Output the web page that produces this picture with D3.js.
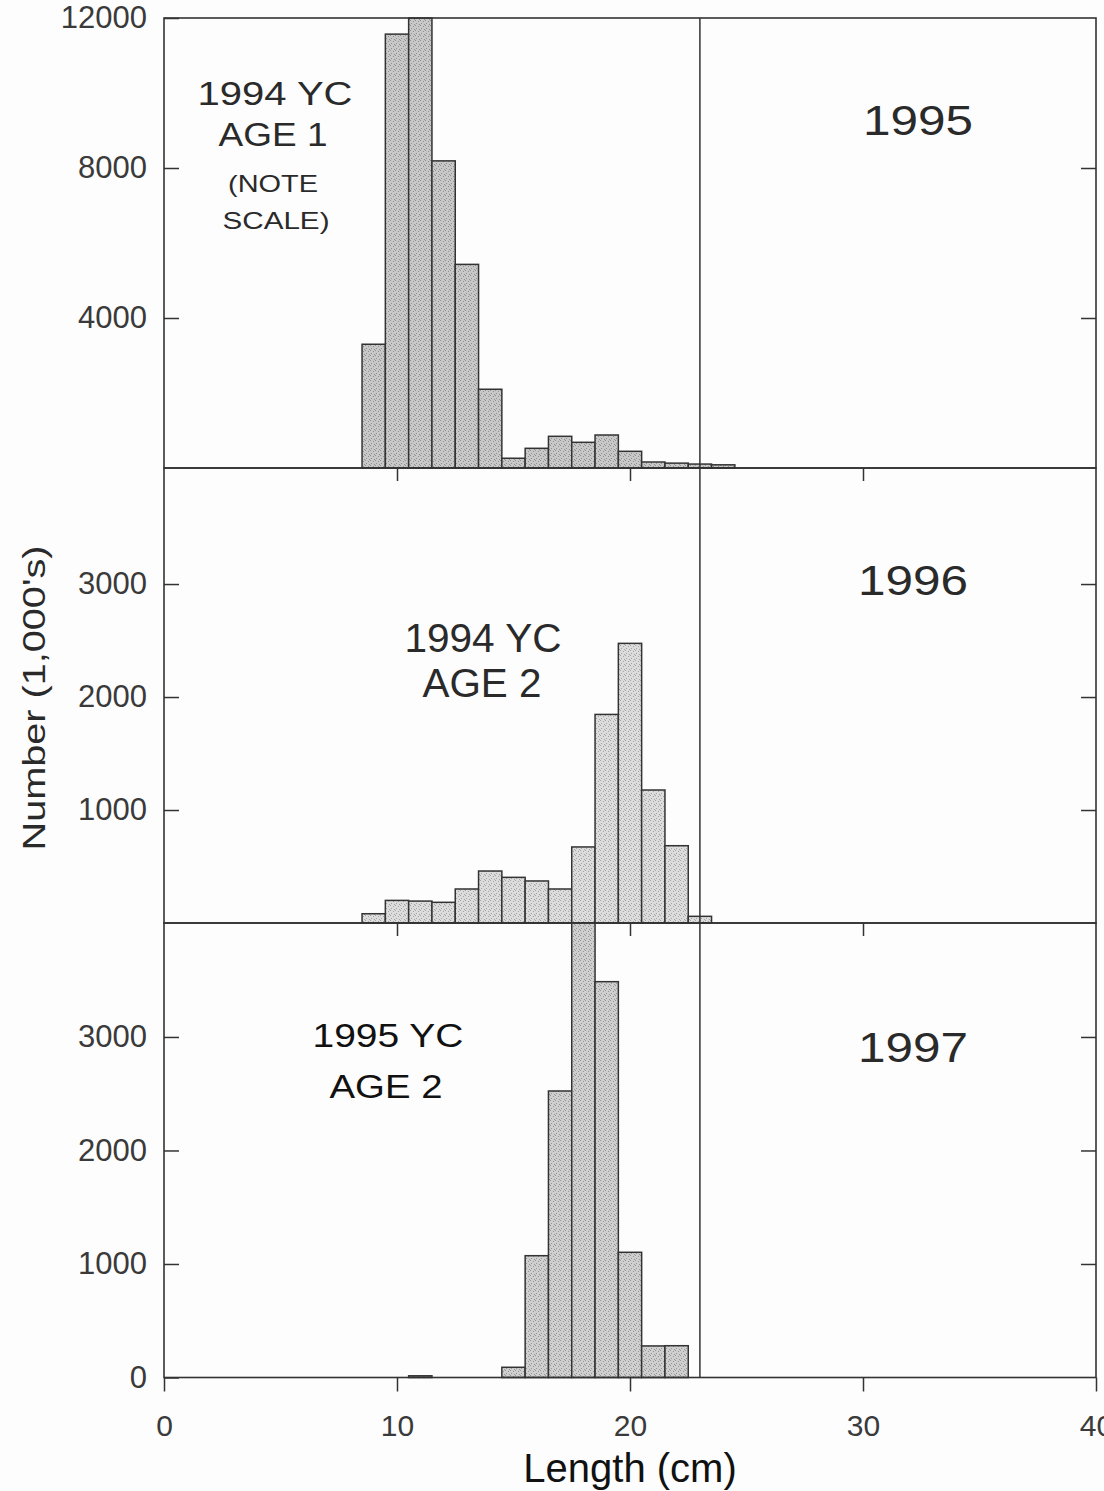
<!DOCTYPE html>
<html>
<head>
<meta charset="utf-8">
<script src="https://cdn.jsdelivr.net/npm/d3@7"></script>
<style>
  body { margin: 0; background: #fdfdfd; }
  svg { display: block; }
  text { font-family: "Liberation Sans", Arial, sans-serif; }
</style>
</head>
<body>
<div id="chart"></div>
<script>
// length classes (cm) and numbers (1,000's) per survey year
var lengths1995 = [9, 10, 11, 12, 13, 14, 15, 16, 17, 18, 19, 20, 21, 22, 23, 24];
var counts1995  = [3300, 11570, 12000, 8190, 5430, 2100, 260, 525, 845, 685, 880, 445, 160, 130, 105, 85];

var lengths1996 = [9, 10, 11, 12, 13, 14, 15, 16, 17, 18, 19, 20, 21, 22, 23];
var counts1996  = [82, 200, 194, 183, 301, 460, 404, 372, 301, 673, 1846, 2475, 1177, 684, 59];

var lengths1997 = [11, 15, 16, 17, 18, 19, 20, 21, 22];
var counts1997  = [15, 90, 1073, 2524, 4004, 3487, 1103, 278, 280];

var yTicks1995 = [4000, 8000, 12000];
var yTicks1996 = [1000, 2000, 3000];
var yTicks1997 = [0, 1000, 2000, 3000];
var xTicks = [0, 10, 20, 30, 40];
var cutLength = 23;

var W = 1104, H = 1491;
var ink = "#333";

var svg = d3.select("#chart").append("svg")
    .attr("width", W).attr("height", H);

svg.append("rect").attr("width", W).attr("height", H).attr("fill", "#fdfdfd");

// stipple patterns for the bars
var defs = svg.append("defs");
function stipple(id, base, dot) {
    var p = defs.append("pattern").attr("id", id)
        .attr("patternUnits", "userSpaceOnUse").attr("width", 5).attr("height", 5);
    p.append("rect").attr("width", 5).attr("height", 5).attr("fill", base);
    [[0, 0], [3, 1], [1, 3], [4, 4]].forEach(function (d) {
        p.append("rect").attr("x", d[0]).attr("y", d[1]).attr("width", 1).attr("height", 1).attr("fill", dot);
    });
}
stipple("st1", "#c8c8c8", "#909090");
stipple("st2", "#dcdcdc", "#a4a4a4");
stipple("st3", "#cfcfcf", "#959595");

var x = d3.scaleLinear().domain([0, 40]).range([164, 1096]);

var panels = [
    { year: "1995", lengths: lengths1995, counts: counts1995, ticks: yTicks1995,
      y: d3.scaleLinear().domain([0, 12000]).range([468, 18]), fill: "url(#st1)",
      yearPos: [918, 135], yearLen: 110, yearSize: 42,
      label: [
        { t: "1994 YC", x: 275, y: 105, size: 33, len: 155 },
        { t: "AGE 1", x: 273, y: 146, size: 33, len: 109 },
        { t: "(NOTE", x: 273, y: 192, size: 24, len: 90 },
        { t: "SCALE)", x: 276, y: 229, size: 24, len: 107 }
      ] },
    { year: "1996", lengths: lengths1996, counts: counts1996, ticks: yTicks1996,
      y: d3.scaleLinear().domain([0, 4027]).range([923, 468]), fill: "url(#st2)",
      yearPos: [913, 595], yearLen: 110, yearSize: 42,
      label: [
        { t: "1994 YC", x: 483, y: 652, size: 40, len: 157 },
        { t: "AGE 2", x: 482, y: 697, size: 40, len: 119 }
      ] },
    { year: "1997", lengths: lengths1997, counts: counts1997, ticks: yTicks1997,
      y: d3.scaleLinear().domain([0, 4004]).range([1377.5, 923]), fill: "url(#st3)",
      yearPos: [913, 1062], yearLen: 110, yearSize: 42,
      label: [
        { t: "1995 YC", x: 388, y: 1047, size: 33, len: 151 },
        { t: "AGE 2", x: 386, y: 1098, size: 33, len: 113 }
      ] }
];

panels.forEach(function (p, i) {
    var g = svg.append("g").attr("class", "panel");
    var data = p.lengths.map(function (l, k) { return { len: l, n: p.counts[k] }; });

    // bars, one per 1-cm length class
    g.selectAll("rect.bar").data(data).enter().append("rect")
        .attr("class", "bar")
        .attr("x", function (d) { return x(d.len - 0.5); })
        .attr("width", function (d) { return x(d.len + 0.5) - x(d.len - 0.5); })
        .attr("y", function (d) { return p.y(d.n); })
        .attr("height", function (d) { return p.y(0) - p.y(d.n); })
        .attr("fill", p.fill)
        .attr("stroke", ink).attr("stroke-width", 1.5);

    // frame
    var top = p.y.range()[1], bot = p.y.range()[0];
    g.append("rect").attr("x", x(0)).attr("y", top)
        .attr("width", x(40) - x(0)).attr("height", bot - top)
        .attr("fill", "none").attr("stroke", ink).attr("stroke-width", 1.6);

    // y axis, ticks inward
    var left = g.append("g").attr("transform", "translate(" + x(0) + ",0)")
        .call(d3.axisLeft(p.y).tickValues(p.ticks).tickFormat(d3.format("d"))
            .tickSizeInner(-15).tickSizeOuter(0).tickPadding(17));
    left.select(".domain").remove();
    left.selectAll("line").attr("stroke", ink).attr("stroke-width", 1.5);
    left.selectAll("text").attr("font-size", 31).attr("fill", "#3a3a3a").attr("font-family", null);

    var right = g.append("g").attr("transform", "translate(" + x(40) + ",0)")
        .call(d3.axisRight(p.y).tickValues(p.ticks.filter(function (v) { return v > 0 && v < p.y.domain()[1] - 1; }))
            .tickSizeInner(-15).tickSizeOuter(0).tickFormat(""));
    right.select(".domain").remove();
    right.selectAll("line").attr("stroke", ink).attr("stroke-width", 1.5);

    // x ticks hanging below the upper panels' baselines
    if (i < 2) {
        var xa = g.append("g").attr("transform", "translate(0," + bot + ")")
            .call(d3.axisBottom(x).tickValues([10, 20, 30]).tickSize(13).tickFormat(""));
        xa.select(".domain").remove();
        xa.selectAll("line").attr("stroke", ink).attr("stroke-width", 1.5);
    }

    // year tag
    g.append("text").attr("x", p.yearPos[0]).attr("y", p.yearPos[1])
        .attr("text-anchor", "middle").attr("font-size", p.yearSize)
        .attr("textLength", p.yearLen).attr("lengthAdjust", "spacingAndGlyphs")
        .attr("fill", "#2a2a2a").text(p.year);

    // year-class label
    g.selectAll("text.yc").data(p.label).enter().append("text")
        .attr("class", "yc")
        .attr("x", function (d) { return d.x; })
        .attr("y", function (d) { return d.y; })
        .attr("text-anchor", "middle")
        .attr("font-size", function (d) { return d.size; })
        .attr("textLength", function (d) { return d.len; })
        .attr("lengthAdjust", "spacingAndGlyphs")
        .attr("fill", i === 2 ? "#111" : "#2a2a2a")
        .text(function (d) { return d.t; });
});

// bottom x axis
var xb = svg.append("g").attr("transform", "translate(0,1377.5)")
    .call(d3.axisBottom(x).tickValues(xTicks).tickSize(14).tickPadding(23));
xb.select(".domain").remove();
xb.selectAll("line").attr("stroke", ink).attr("stroke-width", 1.5);
xb.selectAll("text").attr("font-size", 30).attr("fill", "#3a3a3a").attr("font-family", null);

// vertical marker at 23 cm
svg.append("line")
    .attr("x1", x(cutLength)).attr("x2", x(cutLength))
    .attr("y1", panels[0].y.range()[1]).attr("y2", panels[2].y.range()[0])
    .attr("stroke", ink).attr("stroke-width", 1.5);

// axis titles
svg.append("text")
    .attr("x", 630).attr("y", 1482)
    .attr("text-anchor", "middle").attr("font-size", 40)
    .attr("fill", "#111").text("Length (cm)");

svg.append("text")
    .attr("transform", "translate(45,698) rotate(-90)")
    .attr("text-anchor", "middle").attr("font-size", 32)
    .attr("textLength", 305).attr("lengthAdjust", "spacingAndGlyphs")
    .attr("fill", "#2a2a2a").text("Number (1,000's)");
</script>
</body>
</html>
